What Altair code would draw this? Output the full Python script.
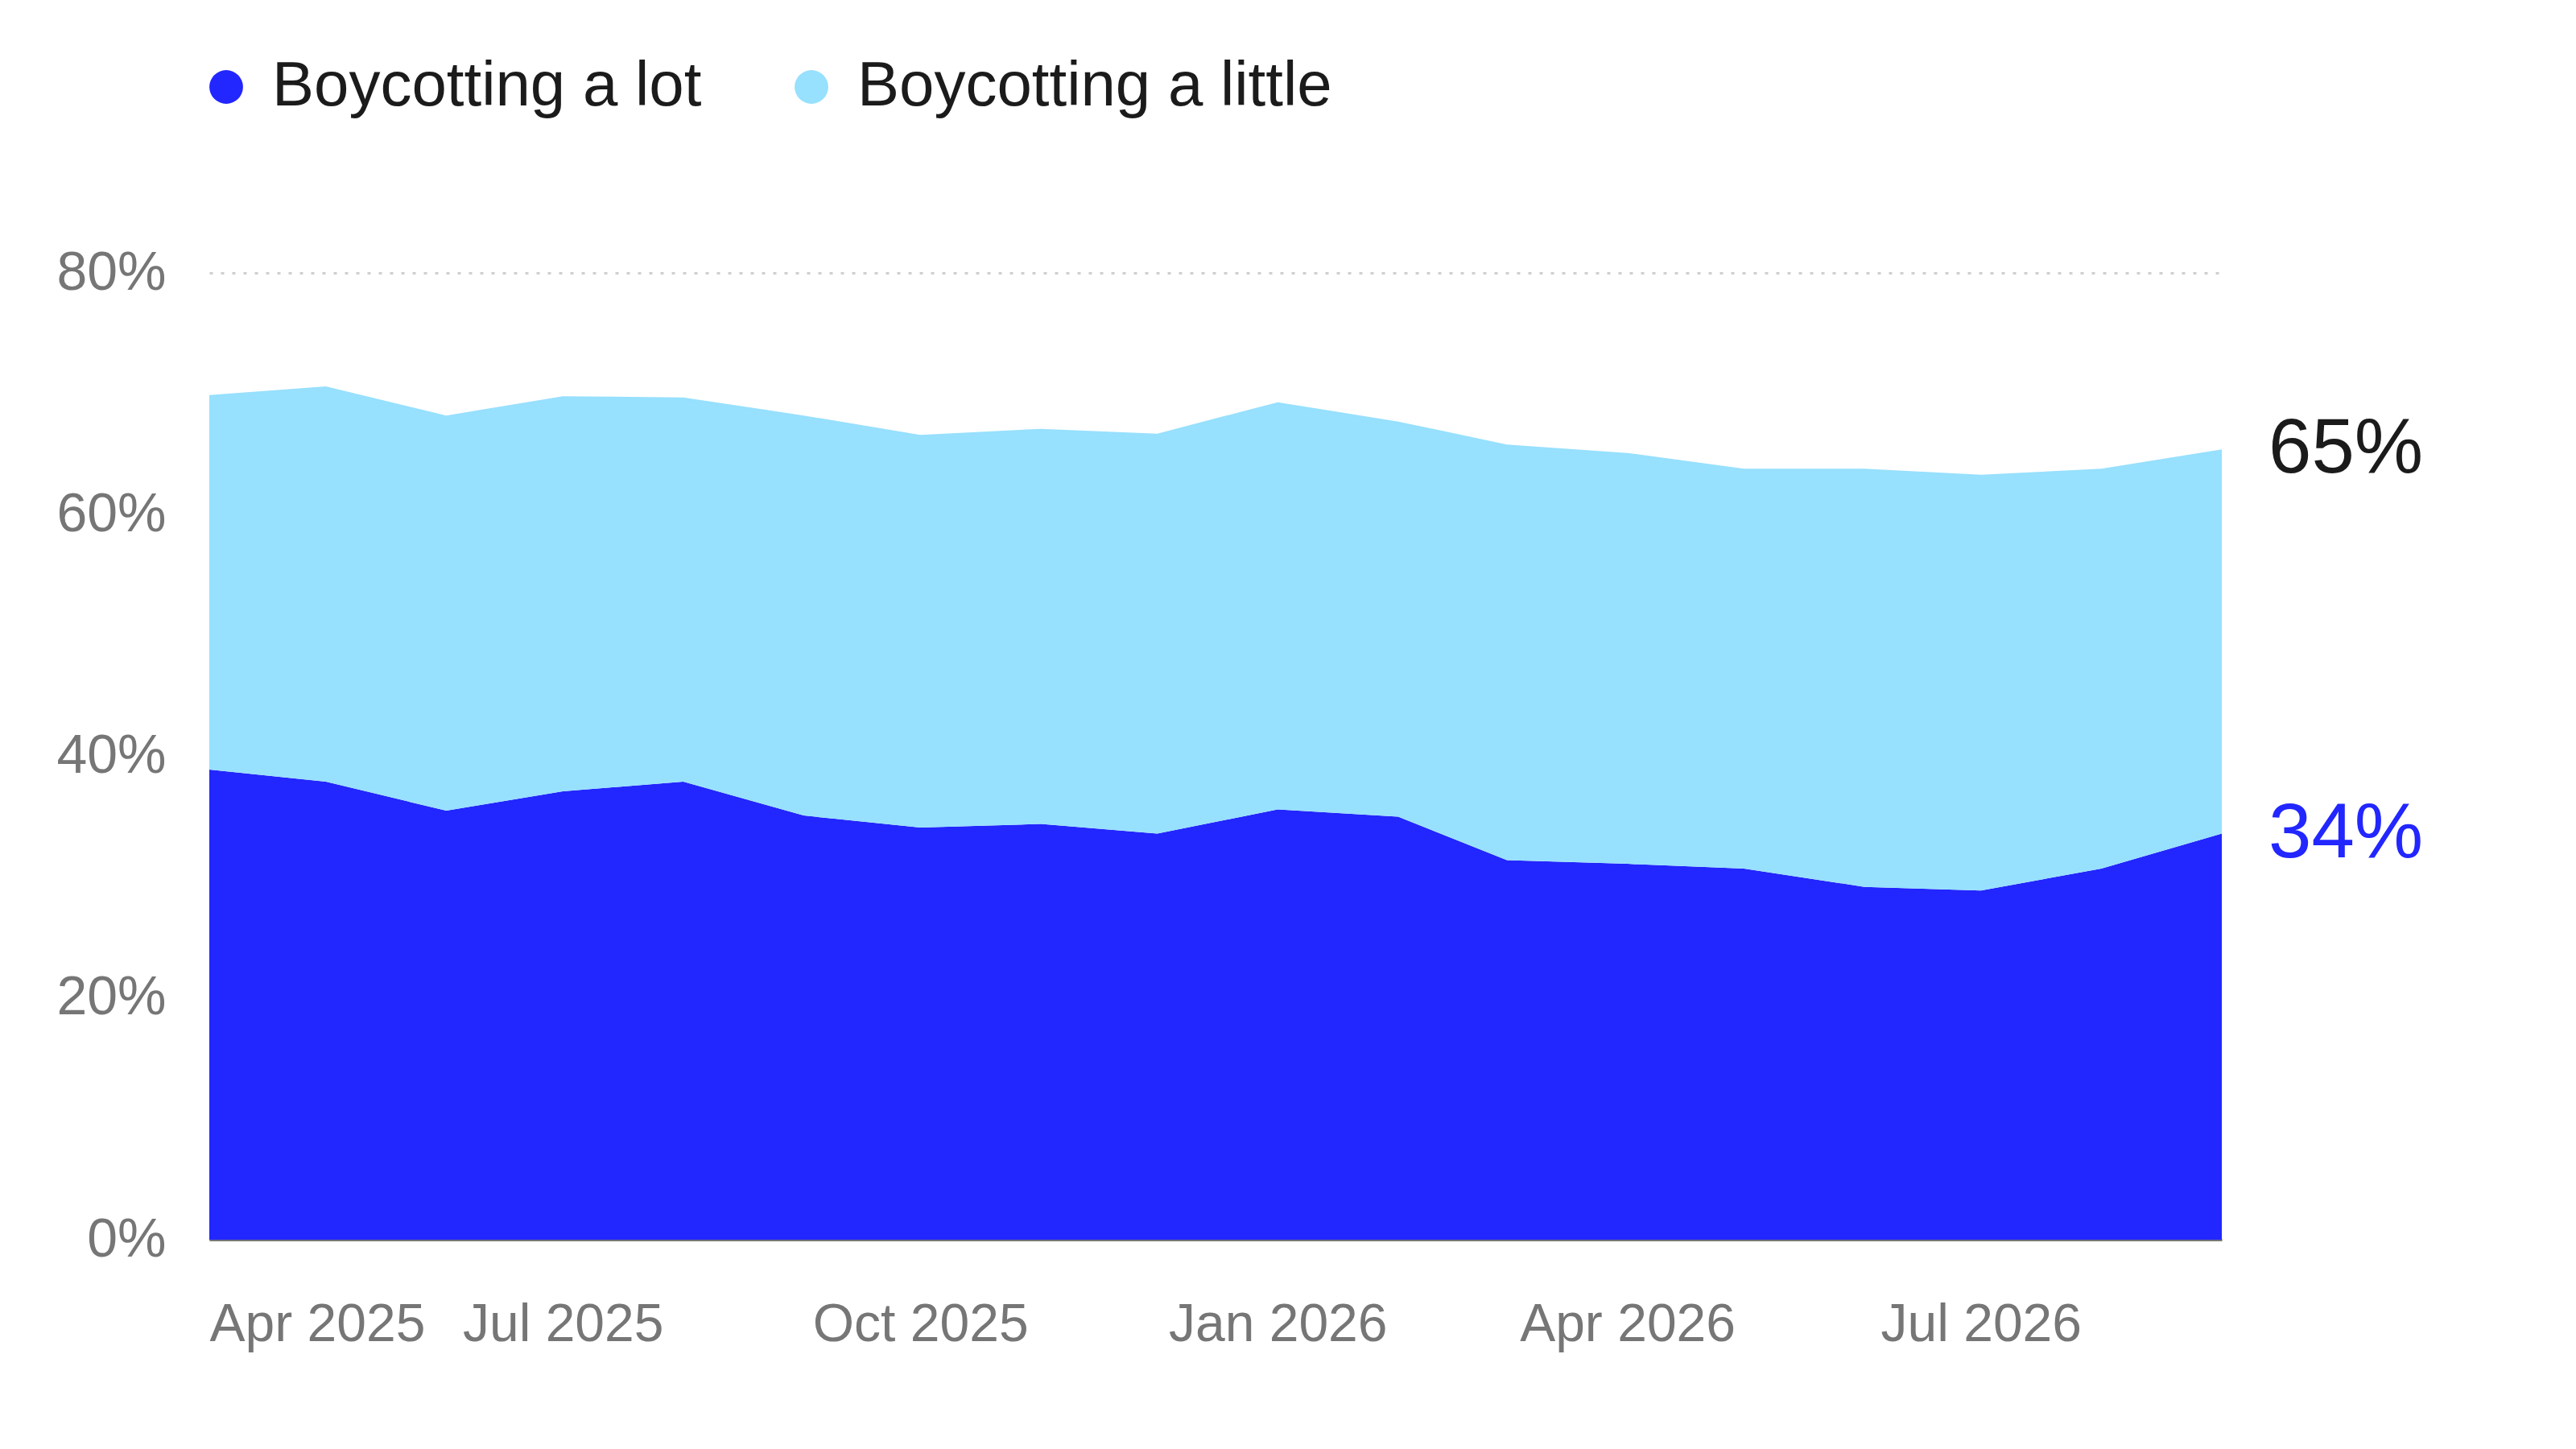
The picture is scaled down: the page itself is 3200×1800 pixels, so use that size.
import altair as alt
import pandas as pd

# ---- data ----
months = [
    "2025-04-01", "2025-05-01", "2025-06-01", "2025-07-01", "2025-08-01", "2025-09-01",
    "2025-10-01", "2025-11-01", "2025-12-01", "2026-01-01", "2026-02-01", "2026-03-01",
    "2026-04-01", "2026-05-01", "2026-06-01", "2026-07-01", "2026-08-01", "2026-09-01",
]
lot = [38.9, 37.9, 35.5, 37.1, 37.9, 35.1, 34.1, 34.4, 33.6, 35.6, 35.0, 31.4,
       31.1, 30.7, 29.2, 28.9, 30.7, 33.6]
little = [31.0, 32.7, 32.7, 32.7, 31.8, 33.1, 32.5, 32.7, 33.1, 33.7, 32.7, 34.4,
          34.0, 33.1, 34.6, 34.4, 33.1, 31.8]
series = ["Boycotting a lot", "Boycotting a little"]
colors = ["#2226FF", "#97E0FE"]
x_tick_dates = ["2025-04-01", "2025-07-01", "2025-10-01", "2026-01-01", "2026-04-01", "2026-07-01"]
y_ticks = [0, 20, 40, 60, 80]

FONT = "Liberation Sans"
GREY = "#767676"
INK = "#1b1b1b"

# ---- tables ----
rows = []
for m, a, b in zip(months, lot, little):
    d = m + "T00:00:00"
    rows.append({"date": d, "series": series[0], "lo": 0.0, "hi": a})
    rows.append({"date": d, "series": series[1], "lo": a, "hi": a + b})
df = pd.DataFrame(rows)

last = months[-1] + "T00:00:00"
end_total = pd.DataFrame({"date": [last], "v": [lot[-1] + little[-1]]})
end_lot = pd.DataFrame({"date": [last], "v": [lot[-1]]})


def dt(s):
    y, mo, da = s.split("-")
    return alt.DateTime(year=int(y), month=int(mo), date=int(da))


x_enc = alt.X(
    "date:T",
    title=None,
    scale=alt.Scale(domain=[dt(months[0]), dt(months[-1])], nice=False),
    axis=alt.Axis(
        values=[dt(s) for s in x_tick_dates],
        format="%b %Y",
        labelFlush=True,
        labelFontSize=66,
        labelColor=GREY,
        labelPadding=73,
        labelLimit=1000,
        ticks=False,
        tickSize=0,
        grid=False,
        domain=True,
        domainColor=GREY,
        domainWidth=3,
    ),
)

y_enc = alt.Y(
    "hi:Q",
    title=None,
    scale=alt.Scale(domain=[0, 80], nice=False),
    axis=alt.Axis(
        values=y_ticks,
        labelExpr="datum.value + '%'",
        labelFontSize=68,
        labelColor=GREY,
        labelPadding=54,
        labelLimit=1000,
        ticks=False,
        domain=False,
        grid=True,
        gridColor="#cfcfcf",
        gridWidth=3,
        gridDash=[4, 10],
    ),
)

area = alt.Chart(df).mark_area(opacity=1, interpolate="linear").encode(
    x=x_enc,
    y=y_enc,
    y2="lo:Q",
    color=alt.Color(
        "series:N",
        scale=alt.Scale(domain=series, range=colors),
        legend=alt.Legend(
            title=None,
            orient="none",
            direction="horizontal",
            legendX=-18,
            legendY=-270,
            symbolType="circle",
            symbolSize=1750,
            symbolStrokeWidth=0,
            symbolOpacity=1,
            labelFontSize=78,
            labelColor=INK,
            labelOffset=18,
            labelLimit=2000,
            columnPadding=97,
            padding=0,
        ),
    ),
)

label_total = alt.Chart(end_total).mark_text(
    align="left", baseline="middle", dx=58, fontSize=96, color=INK, font=FONT
).transform_calculate(t="format(datum.v, '.0f') + '%'").encode(
    x="date:T",
    y="v:Q",
    text="t:N",
)

label_lot = alt.Chart(end_lot).mark_text(
    align="left", baseline="middle", dx=58, fontSize=96, color=colors[0], font=FONT
).transform_calculate(t="format(datum.v, '.0f') + '%'").encode(
    x="date:T",
    y="v:Q",
    text="t:N",
)

chart = (
    alt.layer(area, label_total, label_lot)
    .properties(
        width=2500,
        height=1201,
        autosize=alt.AutoSizeParams(type="none"),
        padding={"left": 252, "top": 331, "right": 400, "bottom": 220},
    )
    .configure(font=FONT)
    .configure_view(stroke=None)
    .configure_axis(labelFont=FONT)
    .configure_legend(labelFont=FONT)
)

chart.save("out.html", embed_options={"renderer": "svg", "actions": False})
